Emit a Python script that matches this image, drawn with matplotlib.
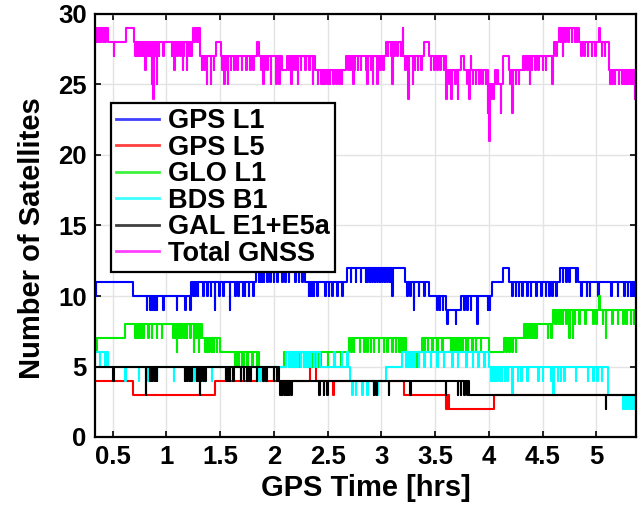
import numpy as np
import matplotlib
matplotlib.use("Agg")
import matplotlib.pyplot as plt

plt.rcParams['font.family'] = ['Liberation Sans', 'DejaVu Sans']
plt.rcParams['font.weight'] = 'bold'

T_END = 5.37

# ---------------- data ----------------
# GPS L1
gps_l1_t = [0.335, 0.69, 1.23, 1.83, 2.29, 2.68, 3.22, 3.44, 3.60, 3.74, 4.03, 4.13, 4.19, 4.66, 4.83]
gps_l1_v = [11, 10, 11, 12, 11, 12, 11, 10, 9, 10, 11, 12, 11, 12, 11]
gps_l1_dip_t = [0.34, 0.817, 0.848, 0.864, 0.879, 0.895, 0.91, 0.972, 1.097, 1.175, 1.221,
                1.25, 1.27, 1.29, 1.34, 1.38, 1.41, 1.45, 1.49, 1.53, 1.59, 1.64, 1.67, 1.71, 1.73, 1.765, 1.81,
                1.858, 1.874, 1.889, 1.905, 1.936, 1.967, 1.998, 2.029, 2.076, 2.107, 2.138, 2.2, 2.231, 2.262,
                2.325, 2.34, 2.356, 2.371, 2.402, 2.48, 2.511, 2.542, 2.589, 2.636,
                2.713, 2.76, 2.807, 2.853, 2.869, 2.89, 2.915, 2.94, 2.962, 2.984, 3.008, 3.033, 3.055, 3.077, 3.10,
                3.24, 3.27, 3.30, 3.35, 3.40, 3.52, 3.545, 3.57, 3.615, 3.693,
                3.77, 3.80, 3.83, 3.89, 3.99, 4.01,
                4.22, 4.25, 4.28, 4.31, 4.36, 4.39, 4.44, 4.49, 4.53, 4.56, 4.59, 4.63,
                4.69, 4.72, 4.75, 4.81,
                4.86, 4.91, 4.94, 5.02, 5.14, 5.2, 5.26, 5.295, 5.325, 5.35]
gps_l1_dip_v = [10, 9, 9, 9, 9, 9, 9, 9, 9, 9, 9,
                10, 10, 10, 10, 10, 10, 9, 10, 10, 9, 10, 10, 10, 10, 10, 10,
                11, 11, 11, 11, 11, 11, 11, 11, 11, 11, 11, 11, 11, 11,
                10, 10, 10, 10, 10, 10, 10, 10, 10, 10,
                11, 11, 11, 11, 11, 11, 11, 11, 11, 11, 11, 11, 11, 11, 10,
                10, 10, 9, 10, 10, 9, 9, 9, 8, 8,
                9, 9, 9, 8, 9, 9,
                10, 10, 10, 10, 10, 10, 10, 10, 10, 10, 10, 10,
                11, 11, 11, 11,
                10, 10, 10, 10, 10, 10, 10, 10, 10, 10]

# GPS L5
gps_l5_t = [0.335, 0.69, 1.45, 2.34, 2.39, 3.21, 3.60, 4.05]
gps_l5_v = [4, 3, 4, 5, 4, 3, 2, 3]
gps_l5_dip_t = [2.55, 3.61, 3.62]
gps_l5_dip_v = [3, 3, 3]

# GLO L1
glo_l1_t = [0.335, 0.615, 1.33, 1.50, 1.86, 2.09, 2.70, 3.23, 3.38, 4.00, 4.14, 4.33, 4.60]
glo_l1_v = [7, 8, 7, 6, 5, 6, 7, 6, 7, 6, 7, 8, 9]
glo_l1_dip_t = [0.345, 0.71, 0.725, 0.74, 0.755, 0.77, 0.785, 0.832, 0.864, 0.91, 0.956, 1.065, 1.08,
                1.097, 1.11, 1.125, 1.14, 1.16, 1.175, 1.19, 1.22, 1.252, 1.27, 1.285, 1.30, 1.315,
                1.36, 1.38, 1.40, 1.42, 1.44, 1.47,
                1.64, 1.67, 1.70, 1.72, 1.75, 1.80, 1.84,
                2.14, 2.16, 2.18, 2.20, 2.23, 2.25, 2.28, 2.31, 2.35, 2.38, 2.41, 2.43, 2.50, 2.56, 2.62,
                2.72, 2.745, 2.80, 2.84, 2.869, 2.9, 2.93, 2.977, 3.024, 3.055, 3.102, 3.133, 3.164, 3.18, 3.195, 3.21,
                3.27, 3.29, 3.31, 3.33, 3.35,
                3.398, 3.43, 3.475, 3.521, 3.569, 3.646, 3.662, 3.678, 3.695, 3.709, 3.725, 3.74, 3.755, 3.786,
                3.802, 3.848, 3.88, 3.926,
                4.16, 4.19, 4.22, 4.25,
                4.34, 4.355, 4.37, 4.385, 4.40, 4.415, 4.43, 4.44, 4.55, 4.58,
                4.62, 4.63, 4.65, 4.67, 4.69, 4.72, 4.75, 4.78, 4.80, 4.84, 4.90, 4.97, 5.0, 5.03,
                5.06, 5.09, 5.15, 5.2, 5.25, 5.28, 5.32, 5.35]
glo_l1_dip_v = [6, 7, 7, 7, 7, 7, 7, 7, 7, 7, 7, 7, 7,
                6, 7, 7, 7, 7, 7, 7, 7, 6, 7, 7, 6, 7,
                6, 6, 6, 6, 6, 6,
                5, 5, 5, 5, 5, 5, 5,
                5, 5, 5, 5, 5, 5, 5, 5, 5, 5, 5, 5, 5, 5, 5,
                6, 6, 6, 6, 6, 6, 6, 6, 6, 6, 6, 6, 6, 6, 6, 6,
                5, 5, 5, 5, 5,
                6, 6, 6, 6, 6, 6, 6, 6, 6, 6, 6, 6, 6, 6,
                6, 6, 6, 6,
                6, 6, 6, 6,
                7, 7, 7, 7, 7, 7, 7, 7, 7, 7,
                8, 8, 8, 8, 8, 8, 7, 7, 8, 8, 8, 8, 8, 10,
                8, 7, 8, 8, 8, 8, 8, 8]

# BDS B1
bds_b1_t = [0.335, 0.46, 2.11, 2.43, 2.71, 3.04, 3.196, 4.004, 5.108]
bds_b1_v = [6, 5, 6, 5, 4, 5, 6, 5, 3]
bds_b1_dip_t = [0.38, 0.43,
                0.615, 0.74, 0.83, 0.85, 0.87, 0.89, 0.91, 1.066, 1.24, 1.26, 1.33, 1.36, 1.42, 1.86, 1.88, 1.90,
                2.14, 2.16, 2.18, 2.20, 2.22, 2.25, 2.28, 2.31, 2.34, 2.37, 2.40,
                2.56, 2.63, 2.68,
                2.73, 2.76, 2.82, 2.87, 2.93, 2.96,
                3.23, 3.25, 3.27, 3.29, 3.31, 3.35, 3.40, 3.46, 3.52, 3.58, 3.66, 3.71, 3.79, 3.85, 3.90, 3.96,
                4.02, 4.03, 4.05, 4.06, 4.08, 4.10, 4.12, 4.15, 4.17, 4.22, 4.27, 4.30, 4.36, 4.46, 4.50,
                4.58, 4.60, 4.64, 4.67, 4.70, 4.81, 4.92, 4.97, 5.01, 5.05,
                5.25, 5.27, 5.29, 5.31, 5.33, 5.35, 5.36]
bds_b1_dip_v = [5, 5,
                4, 4, 4, 4, 4, 4, 4, 4, 4, 4, 4, 4, 4, 4, 4, 4,
                5, 5, 5, 5, 5, 5, 5, 5, 5, 5, 5,
                6, 6, 6,
                3, 3, 3, 3, 3, 3,
                5, 5, 5, 5, 5, 5, 5, 5, 5, 5, 5, 5, 5, 5, 5, 5,
                4, 4, 4, 4, 4, 4, 4, 4, 4, 3, 4, 4, 4, 4, 4,
                4, 3, 4, 4, 4, 4, 4, 4, 4, 4,
                2, 2, 2, 2, 2, 2, 2]

# GAL E1+E5a
gal_t = [0.335, 2.045, 3.82]
gal_v = [5, 4, 3]
gal_dip_t = [0.506, 0.808, 0.85, 0.87, 0.89, 0.91, 1.17, 1.19, 1.21, 1.23, 1.28, 1.30, 1.308, 1.32, 1.34, 1.36,
             1.55, 1.57, 1.59, 1.62, 1.69, 1.72, 1.75, 1.78, 1.84, 1.90, 1.93, 2.00, 2.03,
             2.06, 2.08, 2.10, 2.12, 2.14, 2.16, 2.42, 2.465, 2.496, 2.93, 2.95, 3.07, 3.27, 3.60, 3.71, 3.74, 3.77, 3.80,
             5.09]
gal_dip_v = [4, 3, 4, 4, 4, 4, 4, 4, 4, 4, 4, 4, 3, 4, 4, 4,
             4, 4, 4, 4, 4, 4, 4, 4, 4, 4, 4, 4, 4,
             3, 3, 3, 3, 3, 3, 3, 3, 3, 3, 3, 3, 3, 3, 3, 3, 3, 3,
             2]

# Total GNSS
tot_t = [0.335, 0.46, 0.62, 0.70, 1.25, 1.315, 1.46, 1.51, 1.843, 1.865, 2.076, 2.123, 2.387, 2.667,
         3.046, 3.195, 3.397, 3.444, 3.60, 3.74, 3.77, 3.988, 4.128, 4.19, 4.314, 4.61, 4.657, 4.843, 5.123]
tot_v = [29, 28, 29, 28, 29, 27, 28, 27, 28, 27, 26, 27, 26, 27,
         28, 27, 28, 27, 26, 27, 26, 25, 27, 26, 27, 28, 29, 28, 26]
tot_dip_t = [0.345, 0.36, 0.375, 0.39, 0.41, 0.43, 0.51,
             0.71, 0.725, 0.74, 0.755, 0.77, 0.785, 0.80, 0.83, 0.85, 0.864, 0.875, 0.89, 0.91, 0.93, 0.97,
             1.05, 1.07, 1.10, 1.13, 1.15, 1.16, 1.19, 1.21, 1.23,
             1.26, 1.28, 1.30, 1.33, 1.35, 1.375, 1.41, 1.44,
             1.52, 1.54, 1.55, 1.57, 1.60, 1.63, 1.66, 1.70, 1.74, 1.78, 1.81,
             1.88, 1.90, 1.91, 1.94, 1.97, 2.02, 2.05,
             2.14, 2.16, 2.17, 2.20, 2.22, 2.25, 2.29, 2.33, 2.36,
             2.41, 2.44, 2.46, 2.48, 2.50, 2.52, 2.55, 2.58, 2.61, 2.63,
             2.69, 2.71, 2.74, 2.75, 2.78, 2.81, 2.86, 2.87, 2.90, 2.92, 2.96, 2.99, 3.02,
             3.06, 3.09, 3.10, 3.12, 3.15, 3.18,
             3.20, 3.22, 3.248, 3.29, 3.31, 3.34, 3.37,
             3.46, 3.49, 3.52, 3.55, 3.58,
             3.605, 3.63, 3.65, 3.69, 3.71,
             3.80, 3.817, 3.83, 3.85, 3.88, 3.91, 3.94, 3.97,
             3.99, 4.005, 4.02, 4.04, 4.06, 4.08, 4.11,
             4.20, 4.22, 4.25, 4.28,
             4.33, 4.36, 4.38, 4.40, 4.43, 4.46, 4.50, 4.53, 4.59,
             4.63, 4.67, 4.69, 4.71, 4.74, 4.77, 4.80, 4.82,
             4.86, 4.89, 4.92, 4.96, 4.99, 5.03, 5.05, 5.08,
             5.13, 5.15, 5.17, 5.21, 5.24, 5.26, 5.28, 5.30, 5.32, 5.34, 5.36]
tot_dip_v = [28, 28, 28, 28, 28, 28, 27,
             27, 27, 27, 27, 27, 27, 26, 27, 27, 25, 24, 27, 25, 27, 27,
             27, 26, 27, 27, 26, 27, 26, 27, 27,
             28, 28, 28, 26, 26, 25, 25, 26,
             26, 25, 26, 25, 26, 26, 26, 26, 26, 26, 26,
             26, 25, 26, 26, 25, 25, 25,
             26, 25, 26, 26, 25, 26, 26, 26, 25,
             25, 25, 25, 25, 25, 25, 25, 25, 25, 25,
             26, 26, 25, 26, 26, 26, 26, 25, 26, 25, 25, 26, 26,
             27, 27, 25, 27, 27, 27,
             29, 26, 24, 25, 26, 26, 26,
             26, 26, 26, 26, 26,
             24, 25, 24, 25, 24,
             25, 24, 27, 25, 25, 25, 25, 25,
             23, 21, 24, 24, 26, 26, 23,
             25, 23, 25, 25,
             26, 26, 25, 26, 26, 26, 26, 26, 25,
             27, 28, 27, 28, 28, 28, 28, 28,
             27, 27, 27, 27, 27, 29, 27, 27,
             25, 25, 25, 25, 25, 25, 25, 25, 25, 25, 24]

labels = ['GPS L1', 'GPS L5', 'GLO L1', 'BDS B1', 'GAL E1+E5a', 'Total GNSS']
colors = ['#0000ff', '#ff0000', '#00ee00', '#00ffff', '#000000', '#ff00ff']
x_ticks = [0.5, 1, 1.5, 2, 2.5, 3, 3.5, 4, 4.5, 5]
x_ticklabels = ['0.5', '1', '1.5', '2', '2.5', '3', '3.5', '4', '4.5', '5']
y_ticks = [0, 5, 10, 15, 20, 25, 30]


def build(bt, bv, st, sv, w=0.005):
    bt = np.asarray(bt, float)
    bv = np.asarray(bv, float)
    pts = list(zip(bt, bv))
    for t, v in zip(st, sv):
        idx = np.searchsorted(bt, t + w, side='right') - 1
        pts.append((t, v))
        pts.append((t + w, bv[idx]))
    pts.sort(key=lambda p: p[0])
    pts.append((T_END, pts[-1][1]))
    ts = np.array([p[0] for p in pts])
    vs = np.array([p[1] for p in pts])
    return ts, vs


series = [
    (gps_l1_t, gps_l1_v, gps_l1_dip_t, gps_l1_dip_v),
    (gps_l5_t, gps_l5_v, gps_l5_dip_t, gps_l5_dip_v),
    (glo_l1_t, glo_l1_v, glo_l1_dip_t, glo_l1_dip_v),
    (bds_b1_t, bds_b1_v, bds_b1_dip_t, bds_b1_dip_v),
    (gal_t, gal_v, gal_dip_t, gal_dip_v),
    (tot_t, tot_v, tot_dip_t, tot_dip_v),
]

fig = plt.figure(figsize=(6.41, 5.07), dpi=100)
ax = fig.add_axes([95 / 641, 1 - 437 / 507, 541 / 641, 423 / 507])

for (bt, bv, st, sv), lab, col in zip(series, labels, colors):
    ts, vs = build(bt, bv, st, sv)
    ax.plot(ts, vs, drawstyle='steps-post', color=col, lw=1.5, label=lab)

ax.set_xlim(0.335, T_END)
ax.set_ylim(0, 30)
ax.set_xticks(x_ticks)
ax.set_xticklabels(x_ticklabels)
ax.set_yticks(y_ticks)
ax.grid(True, color='#e3e3e3', lw=1.0)
ax.set_axisbelow(True)
ax.tick_params(direction='in', top=True, right=True, labelsize=18.5, length=4, width=1.2, pad=6)
for s in ax.spines.values():
    s.set_linewidth(1.6)
ax.set_xlabel('GPS Time [hrs]', fontsize=21, fontweight='bold', labelpad=3)
ax.set_ylabel('Number of Satellites', fontsize=21, fontweight='bold')
ax.yaxis.set_label_coords(-0.09, 0.47)

leg = ax.legend(loc='upper left', bbox_to_anchor=(0.029, 0.79), borderaxespad=0,
                fontsize=19.5, handlelength=1.6, handletextpad=0.3, labelspacing=0.02,
                borderpad=0.2, fancybox=False, framealpha=1, edgecolor='black')
leg.get_frame().set_linewidth(1.6)
for line in leg.get_lines():
    line.set_linewidth(2.0)
    line.set_alpha(0.75)

fig.savefig('out.png', dpi=100)
